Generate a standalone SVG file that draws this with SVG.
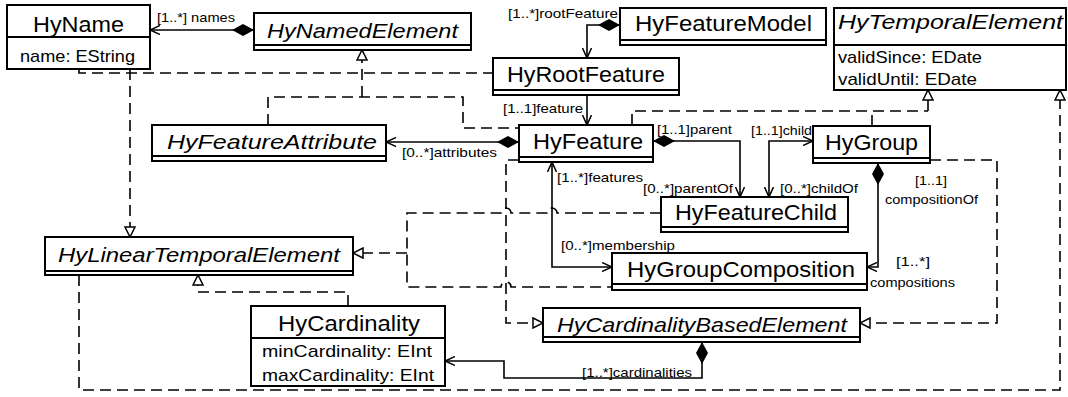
<svg xmlns="http://www.w3.org/2000/svg" width="1068" height="397" viewBox="0 0 1068 397">
<style>
.box{fill:#fff;stroke:#000;stroke-width:2}
.sep{stroke:#000;stroke-width:2}
text{font-family:"Liberation Sans",Arial,sans-serif;fill:#000}
.tt{font-size:22px}
.it{font-style:italic;font-size:21px}
.at{font-size:17px}
.lb{font-size:13px}
.solid{fill:none;stroke:#000;stroke-width:1.6}
.dash{fill:none;stroke:#000;stroke-width:1.6;stroke-dasharray:11 6}
</style>
<defs>
<marker id="arr" viewBox="0 0 10 10" refX="10" refY="5" markerWidth="10" markerHeight="10" markerUnits="userSpaceOnUse" orient="auto-start-reverse"><path d="M0,0.5 L10,5 L0,9.5" fill="none" stroke="#000" stroke-width="1.5"/></marker>
<marker id="dia" viewBox="0 0 22 12" refX="0" refY="6" markerWidth="22" markerHeight="12" markerUnits="userSpaceOnUse" orient="auto"><path d="M0,6 L11,0 L22,6 L11,12 Z" fill="#000"/></marker>
<marker id="tri" viewBox="0 0 12 12" refX="11" refY="6" markerWidth="12" markerHeight="12" markerUnits="userSpaceOnUse" orient="auto"><path d="M1,1 L11,6 L1,11 Z" fill="#fff" stroke="#000" stroke-width="1.5" stroke-dasharray="none"/></marker>
</defs>

<g id="connectors">
<path class="solid" d="M254,30 H150" marker-start="url(#dia)" marker-end="url(#arr)"/>
<path class="solid" d="M620,25 H587 V58" marker-start="url(#dia)" marker-end="url(#arr)"/>
<path class="solid" d="M587,95 V125" marker-end="url(#arr)"/>
<path class="solid" d="M519,142 H386" marker-start="url(#dia)" marker-end="url(#arr)"/>
<path class="solid" d="M653,141 H740 V197" marker-start="url(#dia)" marker-end="url(#arr)"/>
<path class="solid" d="M813,141 H769 V197" marker-start="url(#arr)" marker-end="url(#arr)"/>
<path class="solid" d="M878,163 V267 H867" marker-start="url(#dia)" marker-end="url(#arr)"/>
<path class="solid" d="M552,162 V267 H612" marker-start="url(#arr)" marker-end="url(#arr)"/>
<path class="solid" d="M702,342 V378 H504 V361 H445" marker-start="url(#dia)" marker-end="url(#arr)"/>

<path class="dash" d="M79,69 V73 H493"/>
<path class="dash" d="M268,125 V97 H463 V128 H519"/>
<path class="dash" d="M362,97 V50" marker-end="url(#tri)"/>
<path class="dash" d="M130,69 V237" marker-end="url(#tri)"/>
<path class="dash" d="M632,125 V111 H928"/>
<path class="dash" d="M872,126 V111"/>
<path class="dash" d="M928,111 V90" marker-end="url(#tri)"/>
<path class="dash" d="M79,275 V390 H1060 V90" marker-end="url(#tri)"/>
<path class="dash" d="M348,306 V292 H198 V275" marker-end="url(#tri)"/>
<path class="dash" d="M661,213 H557 a5,5 0 0 0 -10,0 H511 a5,5 0 0 0 -10,0 H407 V287 H501 a5,5 0 0 1 10,0 H612"/>
<path class="dash" d="M407,253 H353" marker-end="url(#tri)"/>
<path class="dash" d="M519,160 H506 V323 H543" marker-end="url(#tri)"/>
<path class="dash" d="M930,160 H997 V323 H860" marker-end="url(#tri)"/>

<text class="lb" x="157" y="22" textLength="78" lengthAdjust="spacingAndGlyphs">[1..*] names</text>
<text class="lb" x="508" y="18" textLength="110" lengthAdjust="spacingAndGlyphs">[1..*]rootFeature</text>
<text class="lb" x="503" y="113" textLength="80" lengthAdjust="spacingAndGlyphs">[1..1]feature</text>
<text class="lb" x="402" y="157" textLength="95" lengthAdjust="spacingAndGlyphs">[0..*]attributes</text>
<text class="lb" x="657" y="134" textLength="75" lengthAdjust="spacingAndGlyphs">[1..1]parent</text>
<text class="lb" x="751" y="135" textLength="61" lengthAdjust="spacingAndGlyphs">[1..1]child</text>
<text class="lb" x="557" y="182" textLength="86" lengthAdjust="spacingAndGlyphs">[1..*]features</text>
<text class="lb" x="643" y="193" textLength="90" lengthAdjust="spacingAndGlyphs">[0..*]parentOf</text>
<text class="lb" x="780" y="193" textLength="78" lengthAdjust="spacingAndGlyphs">[0..*]childOf</text>
<text class="lb" x="915" y="185" textLength="32" lengthAdjust="spacingAndGlyphs">[1..1]</text>
<text class="lb" x="885" y="204" textLength="93" lengthAdjust="spacingAndGlyphs">compositionOf</text>
<text class="lb" x="561" y="250" textLength="114" lengthAdjust="spacingAndGlyphs">[0..*]membership</text>
<text class="lb" x="896" y="266" textLength="34" lengthAdjust="spacingAndGlyphs">[1..*]</text>
<text class="lb" x="870" y="287" textLength="85" lengthAdjust="spacingAndGlyphs">compositions</text>
<text class="lb" x="582" y="377" textLength="110" lengthAdjust="spacingAndGlyphs">[1..*]cardinalities</text>
</g>

<g id="HyName">
<rect class="box" x="7" y="5" width="143" height="64"/>
<line class="sep" x1="7" y1="37" x2="150" y2="37"/>
<text class="tt" x="33" y="32" textLength="91" lengthAdjust="spacingAndGlyphs">HyName</text>
<text class="at" x="20" y="62" textLength="115" lengthAdjust="spacingAndGlyphs">name: EString</text>
</g>
<g id="HyNamedElement">
<rect class="box" x="254" y="13" width="217" height="37"/>
<line class="sep" x1="254" y1="45" x2="471" y2="45"/>
<text class="it" x="267" y="38" textLength="191" lengthAdjust="spacingAndGlyphs">HyNamedElement</text>
</g>
<g id="HyFeatureModel">
<rect class="box" x="620" y="8" width="206" height="37"/>
<line class="sep" x1="620" y1="40" x2="826" y2="40"/>
<text class="tt" x="635" y="31" textLength="177" lengthAdjust="spacingAndGlyphs">HyFeatureModel</text>
</g>
<g id="HyTemporalElement">
<rect class="box" x="834" y="8" width="232" height="82"/>
<line class="sep" x1="834" y1="45" x2="1066" y2="45"/>
<text class="it" x="838" y="29" textLength="225" lengthAdjust="spacingAndGlyphs">HyTemporalElement</text>
<text class="at" x="838" y="63" textLength="144" lengthAdjust="spacingAndGlyphs">validSince: EDate</text>
<text class="at" x="838" y="85" textLength="139" lengthAdjust="spacingAndGlyphs">validUntil: EDate</text>
</g>
<g id="HyRootFeature">
<rect class="box" x="493" y="58" width="186" height="37"/>
<line class="sep" x1="493" y1="90" x2="679" y2="90"/>
<text class="tt" x="507" y="82" textLength="158" lengthAdjust="spacingAndGlyphs">HyRootFeature</text>
</g>
<g id="HyFeatureAttribute">
<rect class="box" x="152" y="125" width="234" height="36"/>
<line class="sep" x1="152" y1="156" x2="386" y2="156"/>
<text class="it" x="167" y="149" textLength="210" lengthAdjust="spacingAndGlyphs">HyFeatureAttribute</text>
</g>
<g id="HyFeature">
<rect class="box" x="519" y="125" width="134" height="37"/>
<line class="sep" x1="519" y1="157" x2="653" y2="157"/>
<text class="tt" x="533" y="149" textLength="110" lengthAdjust="spacingAndGlyphs">HyFeature</text>
</g>
<g id="HyGroup">
<rect class="box" x="813" y="126" width="117" height="37"/>
<line class="sep" x1="813" y1="158" x2="930" y2="158"/>
<text class="tt" x="825" y="150" textLength="93" lengthAdjust="spacingAndGlyphs">HyGroup</text>
</g>
<g id="HyFeatureChild">
<rect class="box" x="661" y="197" width="187" height="35"/>
<line class="sep" x1="661" y1="227" x2="848" y2="227"/>
<text class="tt" x="675" y="220" textLength="162" lengthAdjust="spacingAndGlyphs">HyFeatureChild</text>
</g>
<g id="HyGroupComposition">
<rect class="box" x="612" y="253" width="255" height="37"/>
<line class="sep" x1="612" y1="284" x2="867" y2="284"/>
<text class="tt" x="627" y="277" textLength="228" lengthAdjust="spacingAndGlyphs">HyGroupComposition</text>
</g>
<g id="HyLinearTemporalElement">
<rect class="box" x="45" y="237" width="308" height="38"/>
<line class="sep" x1="45" y1="271" x2="353" y2="271"/>
<text class="it" x="58" y="262" textLength="282" lengthAdjust="spacingAndGlyphs">HyLinearTemporalElement</text>
</g>
<g id="HyCardinality">
<rect class="box" x="251" y="306" width="194" height="80"/>
<line class="sep" x1="251" y1="338" x2="445" y2="338"/>
<text class="tt" x="278" y="331" textLength="142" lengthAdjust="spacingAndGlyphs">HyCardinality</text>
<text class="at" x="262" y="357" textLength="170" lengthAdjust="spacingAndGlyphs">minCardinality: EInt</text>
<text class="at" x="262" y="381" textLength="172" lengthAdjust="spacingAndGlyphs">maxCardinality: EInt</text>
</g>
<g id="HyCardinalityBasedElement">
<rect class="box" x="543" y="308" width="317" height="34"/>
<line class="sep" x1="543" y1="337" x2="860" y2="337"/>
<text class="it" x="557" y="332" textLength="290" lengthAdjust="spacingAndGlyphs">HyCardinalityBasedElement</text>
</g>
</svg>
